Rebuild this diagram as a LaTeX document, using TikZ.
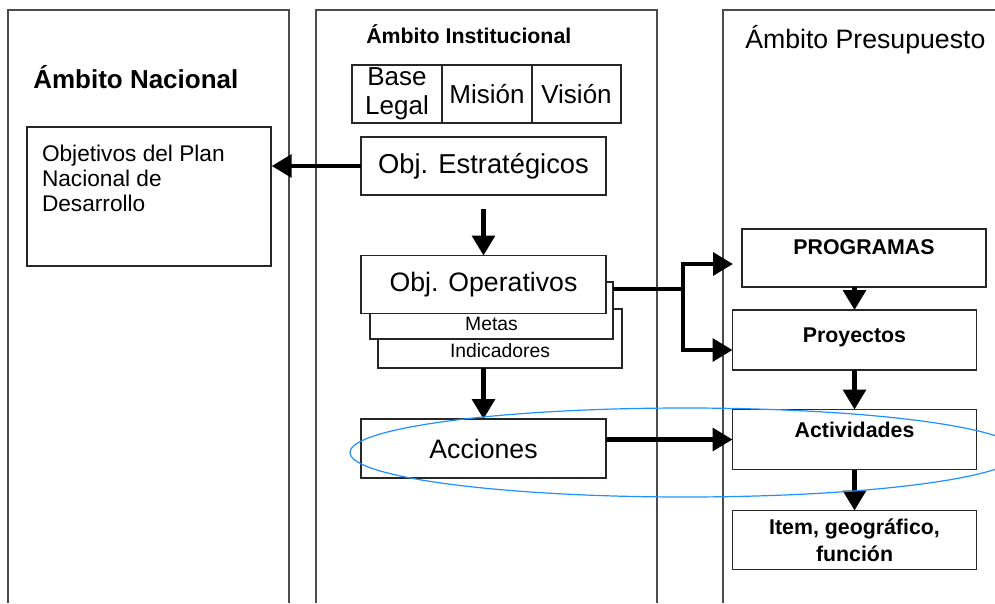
\documentclass[tikz,border=0pt]{standalone}
\usepackage{fontspec}
\setmainfont{Liberation Sans}
\usetikzlibrary{arrows.meta,positioning}
\definecolor{ellblue}{RGB}{30,144,255}
\newdimen\pxu \pxu=0.75pt
\begin{document}
\begin{tikzpicture}[x=0.75pt, y=-0.75pt,
	col/.style={draw=black!70, line width=1.2\pxu},
	box/.style={draw=black!85, fill=white, line width=1.4\pxu, outer sep=0pt, inner sep=0pt,
		minimum width=245\pxu, minimum height=58\pxu, font=\fontsize{20}{24}\selectfont},
	small/.style={box, font=\fontsize{14.5}{17}\selectfont},
	cell/.style={box, minimum width=90\pxu, align=center, font=\fontsize{19.5}{21.75}\selectfont},
	rbox/.style={box, minimum width=244\pxu, minimum height=60\pxu, align=center,
		font=\bfseries\fontsize{16}{20}\selectfont},
	title/.style={anchor=base west, inner sep=0pt},
	arr/.style={line width=4.3\pxu, -{Triangle[length=15pt,width=17pt]}},
	]
	\useasboundingbox (0,0) rectangle (995,603);
	\clip (0,0) rectangle (995,603);

	% three columns, open at the bottom
	\draw[col] (8,603) -- (8,10) -- (289,10) -- (289,603);
	\draw[col] (316,603) -- (316,10) -- (657,10) -- (657,603);
	\draw[col] (723,603) -- (723,10) -- (1000,10);

	\node[title, font=\bfseries\fontsize{19.5}{24}\selectfont] (tnac) at (33,88) {Ámbito Nacional};
	\node[title, font=\bfseries\fontsize{16}{20}\selectfont] (tinst) at (366,43) {Ámbito Institucional};
	\node[title, font=\fontsize{20}{24}\selectfont] (tpre) at (745,48) {Ámbito Presupuesto};

	% national column
	\node[draw=black!85, line width=1.4\pxu, inner xsep=15\pxu, inner ysep=0pt,
		font=\fontsize{17}{18.75}\selectfont] (pnd) at (149,196.5)
		{\parbox[c][139\pxu][t]{214\pxu}{\raggedright\vspace*{18\pxu}Objetivos del Plan\\Nacional de\\Desarrollo}};

	% institutional column
	\node[cell] (base) at (397,94) {Base\\Legal};
	\node[cell, right=0pt of base] (mision) {Misión};
	\node[cell, minimum width=89\pxu, right=0pt of mision] (vision) {Visión};

	\node[box, font=\fontsize{20.5}{24}\selectfont] (estrat) at (483.5,166) {Obj. Estratégicos};
	\node[small, minimum width=244\pxu, minimum height=59\pxu, text height=38\pxu] (ind) at (500,338.5) {Indicadores};
	\node[small, minimum width=243\pxu, minimum height=57\pxu, text height=40\pxu] (metas) at (491.5,310.5) {Metas};
	\node[box] (ops) at (483.5,284.5) {Obj. Operativos};
	\node[box, minimum height=59\pxu] (acc) at (483.5,448.5) {Acciones};

	% budget column
	\node[rbox, minimum height=58\pxu, text depth=21\pxu] (prog) at (864,258) {PROGRAMAS};
	\node[rbox, text depth=10\pxu] (proy) at (854.5,340) {Proyectos};
	\node[rbox, text depth=20\pxu] (act) at (854.5,439.5) {Actividades};
	\node[rbox, minimum height=59\pxu] (item) at (854.5,540) {Item, geográfico,\\función};

	\coordinate (split) at (683,289);

	\draw[arr] (estrat.west) -- (estrat.west -| pnd.east);
	\draw[arr, shorten <=14\pxu] (estrat.south) -- (ops.north);
	\draw[arr] (ind.south -| acc.north) -- (acc.north);
	\draw[arr] (metas.east |- split) -- (split) |- ([xshift=-9\pxu, yshift=-6\pxu]prog.west);
	\draw[arr] (split) |- ([yshift=-10\pxu]proy.west);
	\draw[arr] (acc.east |- act.west) -- (act.west);
	\draw[arr] (prog.south -| proy.north) -- (proy.north);
	\draw[arr] (proy.south) -- (act.north);
	\draw[arr] (act.south) -- (item.north);

	\draw[ellblue, line width=1.2\pxu] (685,452.5) ellipse [x radius=335\pxu, y radius=44.5\pxu];
\end{tikzpicture}
\end{document}
